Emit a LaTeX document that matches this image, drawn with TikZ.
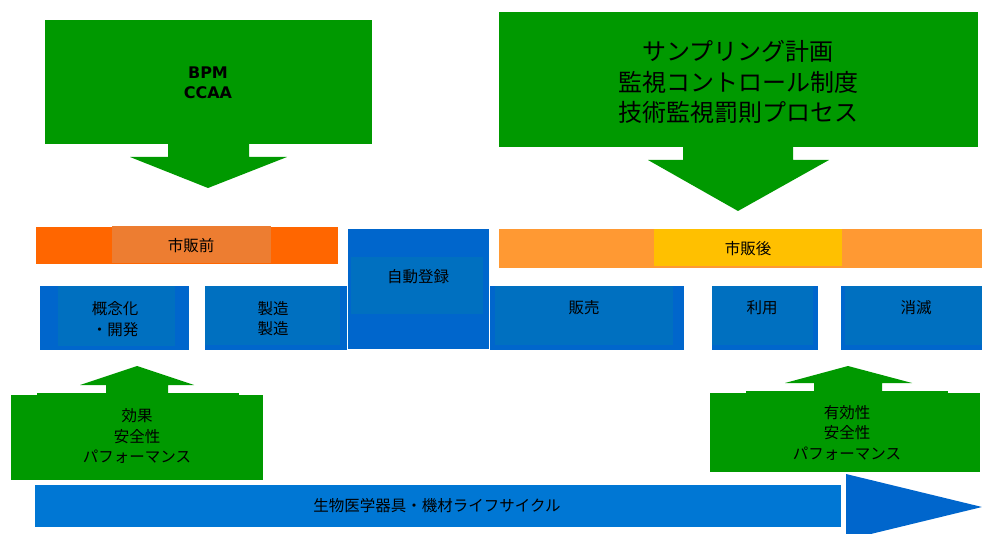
\documentclass[tikz,border=0pt]{standalone}
\usepackage{fontspec}
\newfontfamily\jp{Noto Sans CJK JP}
\newfontfamily\bsans{DejaVu Sans}
\definecolor{grn}{HTML}{009900}
\definecolor{bluea}{HTML}{0066CC}
\definecolor{blueb}{HTML}{0070C0}
\definecolor{bluec}{HTML}{0077D4}
\definecolor{orga}{HTML}{FF6600}
\definecolor{orgb}{HTML}{ED7D31}
\definecolor{orgc}{HTML}{FF9933}
\definecolor{ylw}{HTML}{FFC000}
\tikzset{
  lbl/.style={inner sep=0pt, align=center, text=black, font=\jp\fontsize{15.5}{20.5}\selectfont},
  biglbl/.style={inner sep=0pt, align=center, text=black, font=\jp\fontsize{24}{30.5}\selectfont},
  boldlbl/.style={inner sep=0pt, align=center, text=black, font=\bsans\bfseries\fontsize{16}{20}\selectfont},
}
\begin{document}
\begin{tikzpicture}[x=1pt,y=-1pt]
\useasboundingbox (0,0) rectangle (982,534);
% ---- top-left green block arrow
\fill[grn] (45,20) rectangle (372,144);
\fill[grn] (168,143) -- (249,143) -- (249,157) -- (287,157) -- (208,188) -- (130,157) -- (168,157) -- cycle;
\node[boldlbl] (bpm) at (208,83) {BPM\\CCAA};
% ---- top-right green block arrow
\fill[grn] (499,12) rectangle (978,147);
\fill[grn] (683,146) -- (793,146) -- (793,160) -- (829,160) -- (738,211) -- (648,160) -- (683,160) -- cycle;
\node[biglbl] (smp) at (738,82) {サンプリング計画\\監視コントロール制度\\技術監視罰則プロセス};
% ---- pre-market bar
\fill[orga] (36,227) rectangle (338,264);
\fill[orgb] (112,226) rectangle (271,263);
\node[lbl] (pre) at (191,246) {市販前};
% ---- post-market bar
\fill[orgc] (499,229) rectangle (982,268);
\fill[ylw] (654,229) rectangle (842,266);
\node[lbl] (post) at (748,249) {市販後};
% ---- registration box
\fill[bluea] (348,229) rectangle (489,349);
\fill[blueb] (351,257) rectangle (483,314);
\node[lbl] (reg) at (418,277) {自動登録};
% ---- stage boxes
\fill[bluea] (40,286) rectangle (189,350);
\fill[blueb] (58,286) rectangle (175,346);
\node[lbl] (dev) at (115,319) {概念化\\・開発};
\fill[bluea] (205,286) rectangle (347,350);
\fill[blueb] (205,286) rectangle (340,345);
\node[lbl] (mfg) at (273,318.5) {製造\\製造};
\fill[bluea] (490,286) rectangle (684,350);
\fill[blueb] (495,286) rectangle (673,345);
\node[lbl] (sale) at (584,308) {販売};
\fill[bluea] (712,286) rectangle (818,350);
\fill[blueb] (712,286) rectangle (813,345);
\node[lbl] (use) at (762,308) {利用};
\fill[bluea] (841,286) rectangle (982,350);
\fill[blueb] (845,286) rectangle (982,345);
\node[lbl] (disp) at (916,308) {消滅};
% ---- bottom-left green block arrow (up)
\fill[grn] (11,395) rectangle (263,480);
\fill[grn] (37,393) rectangle (239,396);
\fill[grn] (106,394) -- (106,385) -- (80,385) -- (137,366) -- (194,385) -- (168,385) -- (168,394) -- cycle;
\node[lbl] (eff) at (137,436) {効果\\安全性\\パフォーマンス};
% ---- bottom-right green block arrow (up)
\fill[grn] (710,393) rectangle (980,472);
\fill[grn] (746,391) rectangle (948,394);
\fill[grn] (814,392) -- (814,383) -- (785,383) -- (848,366) -- (912,383) -- (882,383) -- (882,392) -- cycle;
\node[lbl] (eff2) at (847,432.5) {有効性\\安全性\\パフォーマンス};
% ---- lifecycle arrow
\fill[bluec] (35,485) rectangle (841,527);
\fill[bluea] (846,474) -- (982,507) -- (846,540) -- cycle;
\node[lbl] (life) at (437,506) {生物医学器具・機材ライフサイクル};
\end{tikzpicture}
\end{document}
